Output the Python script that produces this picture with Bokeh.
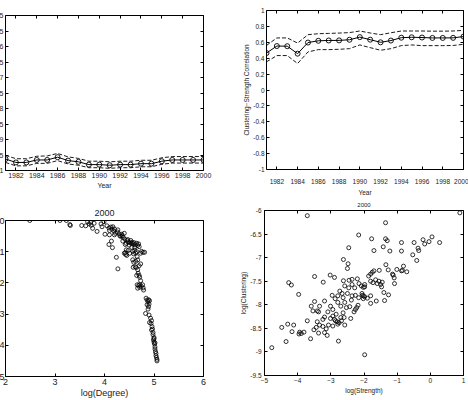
from bokeh.plotting import figure
from bokeh.layouts import row, column
from bokeh.models import (ColumnDataSource, LinearAxis, FixedTicker, CustomJSTickFormatter,
                          Range1d, CustomLabelingPolicy)
from bokeh.embed import file_html
from bokeh.resources import INLINE

FONT = "Liberation Sans"
TXT = "#222222"

# ---- yearly correlation series ----
years = list(range(1981, 2001))
year_ticks = [1982, 1984, 1986, 1988, 1990, 1992, 1994, 1996, 1998, 2000]

cd_mean = [-0.963, -0.974, -0.974, -0.966, -0.966, -0.957, -0.968, -0.972, -0.981, -0.981,
           -0.983, -0.981, -0.981, -0.978, -0.978, -0.970, -0.966, -0.966, -0.966, -0.966]
cd_upper = [-0.951, -0.962, -0.962, -0.954, -0.953, -0.945, -0.956, -0.961, -0.970, -0.970,
            -0.972, -0.970, -0.970, -0.967, -0.967, -0.959, -0.955, -0.955, -0.955, -0.955]
cd_lower = [-0.974, -0.985, -0.985, -0.977, -0.977, -0.968, -0.979, -0.983, -0.991, -0.991,
            -0.993, -0.991, -0.991, -0.988, -0.988, -0.980, -0.976, -0.976, -0.976, -0.976]
cd_ticks = [-1, -0.95, -0.9, -0.85, -0.8, -0.75, -0.7, -0.65, -0.6, -0.55, -0.5]

cs_mean = [0.465, 0.553, 0.551, 0.457, 0.597, 0.619, 0.623, 0.624, 0.632, 0.665,
           0.633, 0.600, 0.622, 0.658, 0.663, 0.660, 0.655, 0.655, 0.656, 0.672]
cs_upper = [0.560, 0.655, 0.655, 0.590, 0.696, 0.708, 0.712, 0.716, 0.722, 0.742,
            0.717, 0.696, 0.720, 0.742, 0.742, 0.742, 0.740, 0.740, 0.742, 0.750]
cs_lower = [0.354, 0.433, 0.433, 0.333, 0.479, 0.508, 0.508, 0.512, 0.520, 0.567,
            0.533, 0.500, 0.520, 0.558, 0.567, 0.558, 0.558, 0.558, 0.560, 0.575]
cs_ticks = [-1, -0.8, -0.6, -0.4, -0.2, 0, 0.2, 0.4, 0.6, 0.8, 1]

# ---- 2000 snapshot: log(Clustering) against log(Degree) ----
deg_x = [2.49, 3.10, 3.23, 3.30, 3.31, 3.54, 3.62, 3.66, 3.69, 3.72, 3.73, 3.76, 3.79, 3.85,
         3.93, 3.95, 3.99, 4.01, 4.05, 4.09, 4.10, 4.10, 4.13, 4.15, 4.17, 4.19, 4.20, 4.09,
         4.14, 4.16, 4.20, 4.22, 4.26, 4.27, 4.24, 4.27, 4.30, 4.31, 4.33, 4.35, 4.36, 4.38,
         4.40, 4.41, 4.37, 4.42, 4.42, 4.44, 4.46, 4.47, 4.48, 4.50, 4.51, 4.53, 4.54, 4.43,
         4.45, 4.40, 4.44, 4.48, 4.51, 4.55, 4.57, 4.59, 4.61, 4.63, 4.57, 4.59, 4.63, 4.58,
         4.62, 4.64, 4.67, 4.65, 4.68, 4.70, 4.71, 4.73, 4.66, 4.69, 4.71, 4.74, 4.77, 4.78,
         4.79, 4.67, 4.71, 4.70, 4.73, 4.67, 4.66, 4.61, 4.65, 4.81, 4.84, 4.86, 4.88, 4.89,
         4.90, 4.86, 4.89, 4.91, 4.83, 4.88, 4.90, 4.93, 4.91, 4.94, 4.96, 4.95, 4.98, 4.98,
         5.00, 4.99, 5.00, 5.01, 5.02, 5.02, 5.03, 5.04, 5.04, 5.05, 5.06, 5.06, 5.02, 5.00,
         4.97, 4.95, 4.56, 4.58, 4.60, 4.62, 4.65, 4.67, 4.69, 4.70, 4.75, 4.78, 4.73]
deg_y = [0.00, 0.00, 0.00, -0.13, -0.16, -0.16, -0.17, -0.04, -0.11, -0.06, -0.15, -0.25,
         -0.09, -0.35, -0.11, -0.20, -0.04, -0.44, -0.17, -0.24, -0.32, -0.46, -0.21, -0.28,
         -0.20, -0.34, -0.27, -0.77, -0.66, -0.87, -0.46, -0.41, -0.37, -0.30, -1.18, -1.55,
         -0.43, -0.49, -0.51, -0.44, -0.49, -0.54, -0.41, -0.60, -0.66, -0.77, -1.03, -0.73,
         -0.64, -0.61, -0.69, -0.79, -0.71, -0.64, -0.73, -1.09, -1.12, -1.05, -0.94, -0.96,
         -1.05, -0.86, -0.99, -1.07, -0.96, -1.04, -1.26, -1.34, -1.31, -1.50, -1.48, -1.51,
         -1.58, -1.76, -1.69, -1.76, -1.82, -1.93, -2.06, -2.08, -2.06, -2.10, -2.06, -2.16,
         -2.23, -2.17, -2.14, -1.45, -1.39, -1.26, -1.16, -0.86, -1.00, -1.02, -2.49, -2.55,
         -2.60, -2.54, -2.68, -2.70, -2.76, -2.57, -2.98, -2.84, -3.03, -3.13, -3.27, -3.30,
         -3.40, -3.51, -3.59, -3.66, -3.75, -3.83, -3.90, -3.96, -4.05, -4.12, -4.20, -4.26,
         -4.33, -4.39, -4.50, -4.45, -3.92, -3.79, -3.48, -3.21, -0.70, -0.75, -0.71, -0.78,
         -0.73, -0.80, -0.75, -0.84, -0.99, -1.02, -1.05]

# ---- 2000 snapshot: log(Clustering) against log(Strength) ----
str_x = [-3.71, 0.89, -1.35, -2.16, -1.77, -1.35, -1.30, -1.70, -1.42, -1.22, -0.87, -0.87,
         -0.49, -0.53, -0.41, -0.37, -0.35, -0.22, -0.17, -0.04, 0.05, 0.28, -1.34, -1.54,
         -1.27, -1.14, -1.12, -1.09, -1.08, -1.01, -0.87, -0.84, -0.81, -0.71, -1.86, -1.80,
         -1.75, -1.70, -1.80, -1.73, -1.65, -1.60, -1.55, -1.50, -1.45, -1.47, -1.98, -1.98,
         -1.40, -1.26, -1.38, -1.63, -1.80, -2.05, -1.98, -1.90, -2.02, -1.80, -1.98, -2.46,
         -2.62, -2.48, -2.50, -3.49, -3.02, -2.89, -3.23, -4.27, -4.19, -3.97, -2.62, -2.45,
         -2.36, -2.20, -2.58, -2.46, -2.36, -2.28, -2.15, -2.08, -2.02, -2.73, -2.66, -2.50,
         -2.79, -2.63, -2.87, -2.96, -2.36, -2.26, -2.16, -2.06, -2.02, -3.49, -3.19, -3.01,
         -3.59, -3.34, -3.54, -3.41, -3.37, -3.09, -2.94, -2.70, -2.79, -2.58, -2.53, -2.43,
         -2.38, -2.63, -2.84, -2.94, -2.70, -2.60, -2.40, -2.30, -2.26, -2.22, -2.18, -3.24,
         -3.19, -3.01, -2.89, -2.86, -2.81, -2.75, -2.68, -3.71, -3.41, -3.34, -3.44, -3.24,
         -3.14, -3.07, -2.94, -2.79, -2.58, -3.51, -3.37, -3.19, -3.11, -3.61, -2.77, -4.30,
         -4.12, -4.48, -4.17, -3.94, -3.89, -3.81, -3.96, -4.35, -4.78]
str_y = [-6.11, -6.05, -6.26, -6.52, -6.60, -6.60, -6.64, -6.85, -6.77, -6.86, -6.68, -6.86,
         -6.68, -6.94, -7.06, -6.80, -6.85, -6.62, -6.71, -6.66, -6.56, -6.68, -7.15, -7.27,
         -7.26, -7.35, -7.37, -7.43, -7.55, -7.25, -7.28, -7.27, -7.18, -7.30, -7.39, -7.35,
         -7.31, -7.28, -7.50, -7.53, -7.47, -7.55, -7.50, -7.57, -7.52, -7.62, -7.57, -7.62,
         -7.74, -7.79, -7.91, -7.92, -7.81, -7.80, -7.83, -7.86, -7.87, -7.97, -9.06, -6.79,
         -7.04, -7.13, -7.23, -7.40, -7.37, -7.42, -7.52, -7.53, -7.58, -7.78, -7.49, -7.48,
         -7.46, -7.45, -7.60, -7.64, -7.57, -7.64, -7.55, -7.60, -7.63, -7.71, -7.76, -7.76,
         -7.81, -7.85, -7.87, -7.80, -7.81, -7.80, -7.85, -7.76, -7.81, -7.93, -7.92, -8.03,
         -8.03, -8.03, -8.13, -8.13, -8.15, -8.15, -8.10, -8.03, -7.95, -7.95, -8.06, -8.04,
         -7.90, -8.17, -8.20, -8.24, -8.27, -8.27, -8.29, -8.15, -8.10, -8.06, -8.01, -8.31,
         -8.26, -8.29, -8.31, -8.34, -8.36, -8.38, -8.34, -8.34, -8.36, -8.43, -8.48, -8.46,
         -8.51, -8.43, -8.45, -8.41, -8.43, -8.53, -8.60, -8.59, -8.65, -8.72, -8.77, -8.41,
         -8.43, -8.48, -8.57, -8.58, -8.61, -8.58, -8.62, -8.78, -8.91]

as_text = CustomJSTickFormatter(code="return String(tick)")
# tick marks only, no labels, for the mirrored top/right edges
no_labels = CustomLabelingPolicy(code="for (const i of indices) { indices.unset(i) } return indices")


def make_fig(width, xr, yr, left, right, top, bottom):
    return figure(width=width, height=200, x_range=Range1d(*xr), y_range=Range1d(*yr),
                  output_backend="svg", toolbar_location=None, frame_align=False,
                  min_border_left=left, min_border_right=right,
                  min_border_top=top, min_border_bottom=bottom)


def style(p, xticks, yticks, size, xstand, ystand):
    """MATLAB-like boxed axes: inward ticks on all four sides, no grid."""
    p.outline_line_color = "black"
    p.outline_line_width = 1
    p.outline_line_alpha = 1
    p.grid.visible = False
    xa, ya = p.below[0], p.left[0]
    xa.ticker = FixedTicker(ticks=xticks)
    ya.ticker = FixedTicker(ticks=yticks)
    ya.formatter = as_text
    xa.major_label_standoff = xstand
    ya.major_label_standoff = ystand
    for ax in (xa, ya):
        ax.axis_line_color = None
        ax.major_tick_in = 3
        ax.major_tick_out = 0
        ax.major_tick_line_color = "black"
        ax.minor_tick_line_color = None
        ax.major_label_text_font = FONT
        ax.major_label_text_font_size = size
        ax.major_label_text_color = TXT
        ax.axis_label_text_font = FONT
        ax.axis_label_text_font_size = size
        ax.axis_label_text_font_style = "normal"
        ax.axis_label_text_color = TXT
    for place, ticks in (("above", xticks), ("right", yticks)):
        ax = LinearAxis(ticker=FixedTicker(ticks=ticks), axis_line_color=None,
                        major_tick_in=3, major_tick_out=0, major_tick_line_color="black",
                        minor_tick_line_color=None, major_label_text_font_size="1px",
                        major_label_standoff=0, major_label_policy=no_labels)
        p.add_layout(ax, place)
    return xa, ya


def band_line(p, mean, upper, lower):
    src = ColumnDataSource(dict(year=years, mean=mean, upper=upper, lower=lower))
    p.line("year", "upper", source=src, line_color="black", line_width=0.9, line_dash="4 2")
    p.line("year", "lower", source=src, line_color="black", line_width=0.9, line_dash="4 2")
    p.line("year", "mean", source=src, line_color="black", line_width=1)
    p.scatter("year", "mean", source=src, marker="circle", size=5,
              fill_color=None, line_color="black", line_width=0.9)


def set_title(p, size):
    p.title.text = "2000"
    p.title.align = "center"
    p.title.text_font = FONT
    p.title.text_font_size = size
    p.title.text_font_style = "normal"
    p.title.text_color = TXT
    p.title.standoff = 0


# top-left: clustering-degree correlation by year
p1 = make_fig(264, (1981, 2000), (-1, -0.5), 35, 31, 15, 30)
band_line(p1, cd_mean, cd_upper, cd_lower)
xa, ya = style(p1, year_ticks, cd_ticks, "7px", 2, 2)
xa.axis_label = "Year"
xa.axis_label_standoff = 1
p1.margin = (0, 0, 0, -30)

# top-right: clustering-strength correlation by year
p2 = make_fig(234, (1981, 2000), (-1, 1), 32, 5, 10, 31)
band_line(p2, cs_mean, cs_upper, cs_lower)
xa, ya = style(p2, year_ticks, cs_ticks, "6.5px", 9, 2)
xa.axis_label = "Year"
xa.axis_label_standoff = 2
ya.axis_label = "Clustering\u2212Strength Correlation"
ya.axis_label_standoff = 0

# bottom-left: 2000 scatter against degree
p3 = make_fig(264, (2, 6), (-5, 0), 35, 31, 20, 24)
p3.scatter(deg_x, deg_y, marker="circle", size=4, fill_color=None,
           line_color="black", line_width=0.8)
xa, ya = style(p3, [2, 3, 4, 5, 6], [-5, -4, -3, -2, -1, 0], "9px", 2, 1)
xa.axis_label = "log(Degree)"
xa.axis_label_standoff = 0
set_title(p3, "9px")
p3.title.standoff = 1
p3.margin = (0, 0, 0, -30)

# bottom-right: 2000 scatter against strength
p4 = make_fig(234, (-5, 1), (-9.5, -6), 30, 5, 9, 25)
p4.scatter(str_x, str_y, marker="circle", size=4, fill_color=None,
           line_color="black", line_width=0.8)
xa, ya = style(p4, [-5, -4, -3, -2, -1, 0, 1], [-9.5, -9, -8.5, -8, -7.5, -7, -6.5, -6],
               "6.5px", 2, 3)
xa.axis_label = "log(Strength)"
xa.axis_label_standoff = 1
ya.axis_label = "log(Clustering)"
ya.axis_label_standoff = 0
set_title(p4, "6px")

layout = column(row(p1, p2), row(p3, p4))
open("out.html", "w").write(file_html(layout, INLINE))
